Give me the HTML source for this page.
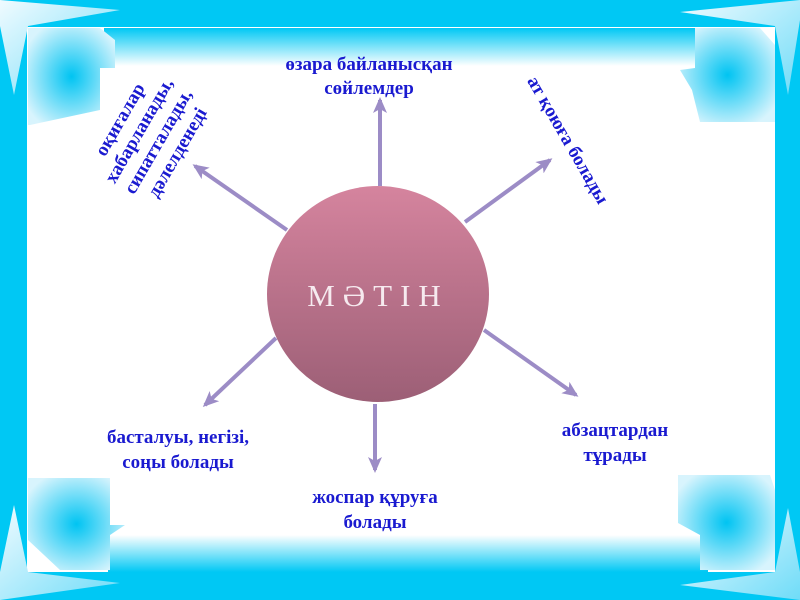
<!DOCTYPE html>
<html><head><meta charset="utf-8"><style>
html,body{margin:0;padding:0;background:#fff;}
svg{display:block;}
text.l{font-family:"Liberation Serif",serif;font-weight:bold;font-size:19px;fill:#1a1ad0;}
</style></head><body>
<svg width="800" height="600" viewBox="0 0 800 600" xmlns="http://www.w3.org/2000/svg">
<defs>
<linearGradient id="tg" x1="0" y1="0" x2="0" y2="1"><stop offset="0" stop-color="#00c8f4"/><stop offset="1" stop-color="#fff"/></linearGradient>
<linearGradient id="bg" x1="0" y1="1" x2="0" y2="0"><stop offset="0" stop-color="#00c8f4"/><stop offset="1" stop-color="#fff"/></linearGradient>
<radialGradient id="bl" cx="0.5" cy="0.5" r="0.6"><stop offset="0" stop-color="#00c4f2"/><stop offset="1" stop-color="#d8f4fd"/></radialGradient>
<linearGradient id="sp" x1="0" y1="0" x2="1" y2="1"><stop offset="0" stop-color="#f0fbff"/><stop offset="1" stop-color="#6fdcf8"/></linearGradient>
<linearGradient id="cg" x1="0" y1="0" x2="0" y2="1"><stop offset="0" stop-color="#d5849e"/><stop offset="1" stop-color="#9c5f76"/></linearGradient>
<marker id="ah" markerWidth="16" markerHeight="14" refX="13" refY="7" orient="auto" markerUnits="userSpaceOnUse"><path d="M0,0 L16,7 L0,14 L4,7 Z" fill="#9c8cc6"/></marker>
</defs>
<rect x="0" y="0" width="800" height="27" fill="#00c8f4"/>
<rect x="0" y="0" width="27" height="600" fill="#00c8f4"/>
<rect x="775" y="0" width="25" height="600" fill="#00c8f4"/>
<rect x="0" y="572" width="800" height="28" fill="#00c8f4"/>
<rect x="104" y="28" width="600" height="38" fill="url(#tg)"/>
<rect x="108" y="535" width="600" height="37" fill="url(#bg)"/>
<path d="M28,28 L100,28 L115,40 L115,68 L100,68 L100,110 L30,125 L28,125 Z" fill="url(#bl)"/>
<path d="M695,28 L760,28 L775,45 L775,122 L700,122 L692,90 L680,70 L695,68 Z" fill="url(#bl)"/>
<path d="M28,478 L110,478 L110,525 L125,525 L110,535 L110,570 L60,570 L28,540 Z" fill="url(#bl)"/>
<path d="M678,475 L770,475 L775,490 L775,570 L700,570 L700,535 L678,523 Z" fill="url(#bl)"/>
<path d="M0,0 L120,10 L28,26 L14,95 L0,26 Z" fill="url(#sp)"/>
<path d="M800,0 L680,12 L775,26 L788,95 L800,20 Z" fill="url(#sp)"/>
<path d="M0,600 L120,583 L28,572 L14,505 L0,572 Z" fill="url(#sp)"/>
<path d="M800,600 L680,585 L775,572 L788,508 L800,572 Z" fill="url(#sp)"/>
<g stroke="#9c8cc6" stroke-width="4" fill="none" marker-end="url(#ah)">
<line x1="380" y1="186" x2="380" y2="100"/>
<line x1="287" y1="230" x2="195" y2="166"/>
<line x1="465" y1="222" x2="550" y2="160"/>
<line x1="276" y1="338" x2="205" y2="405"/>
<line x1="375" y1="404" x2="375" y2="470"/>
<line x1="484" y1="330" x2="576" y2="395"/>
</g>
<ellipse cx="378" cy="294" rx="111" ry="108" fill="url(#cg)"/>
<text x="378" y="306" text-anchor="middle" font-family="Liberation Serif,serif" font-size="31" letter-spacing="8" fill="#f6eaef">МӘТІН</text>
<text class="l" x="369" y="70" text-anchor="middle">өзара байланысқан</text>
<text class="l" x="369" y="94" text-anchor="middle">сөйлемдер</text>
<text class="l" x="178" y="443" text-anchor="middle">басталуы, негізі,</text>
<text class="l" x="178" y="468" text-anchor="middle">соңы болады</text>
<text class="l" x="375" y="503" text-anchor="middle">жоспар құруға</text>
<text class="l" x="375" y="528" text-anchor="middle">болады</text>
<text class="l" x="615" y="436" text-anchor="middle">абзацтардан</text>
<text class="l" x="615" y="461" text-anchor="middle">тұрады</text>
<g transform="translate(152,138) rotate(-60)">
<text class="l" x="0" y="-31" text-anchor="middle">оқиғалар</text>
<text class="l" x="0" y="-9" text-anchor="middle">хабарланады,</text>
<text class="l" x="0" y="13" text-anchor="middle">сипатталады,</text>
<text class="l" x="0" y="35" text-anchor="middle">дәлелденеді</text>
</g>
<g transform="translate(568,140) rotate(60)">
<text class="l" x="0" y="6" text-anchor="middle">ат қоюға болады</text>
</g>
</svg>
</body></html>
